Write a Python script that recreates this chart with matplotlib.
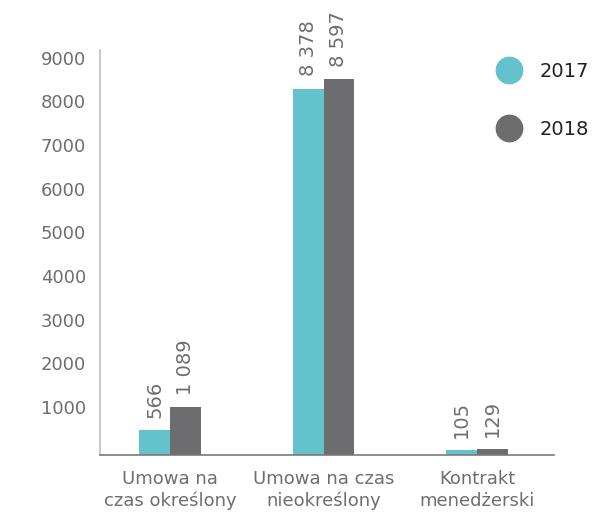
import matplotlib.pyplot as plt
import numpy as np
from matplotlib.lines import Line2D
from matplotlib.transforms import ScaledTranslation

# employment contract types, headcount per year
categories = ["Umowa na\nczas określony", "Umowa na czas\nnieokreślony", "Kontrakt\nmenedżerski"]
years = ["2017", "2018"]
values_2017 = [566, 8378, 105]
values_2018 = [1089, 8597, 129]
yticks = [1000, 2000, 3000, 4000, 5000, 6000, 7000, 8000, 9000]

CYAN = "#63c2cc"
GRAY = "#6d6d6f"
TEXT = "#6e6e6e"

plt.rcParams["font.family"] = ["DejaVu Sans"]

fig = plt.figure(figsize=(5.95, 5.15), dpi=100)
ax = fig.add_axes([0.168, 0.1165, 0.763, 0.7865])

x = np.arange(len(categories))
w = 0.2
ax.bar(x - w / 2, values_2017, w, color=CYAN)
ax.bar(x + w / 2, values_2018, w, color=GRAY)


def fmt(v):
    return f"{v:,}".replace(",", " ")


for xs, vals in [(x - w / 2, values_2017), (x + w / 2, values_2018)]:
    for xi, v in zip(xs, vals):
        ax.annotate(fmt(v), (xi, v), xytext=(0, 9), textcoords="offset points",
                    rotation=90, ha="center", va="bottom", fontsize=14, color=TEXT)

ax.set_xlim(-0.456, 2.5)
ax.set_ylim(0, 9270)
ax.set_yticks(yticks)
ax.set_yticklabels([str(t) for t in yticks])
ax.set_xticks(x)
ax.set_xticklabels(categories, linespacing=1.3)
ax.tick_params(axis="y", length=0, pad=10, labelsize=13, labelcolor=TEXT)
ax.tick_params(axis="x", length=0, pad=10.5, labelsize=13, labelcolor=TEXT)

# nudge y labels up a little
for lbl in ax.get_yticklabels():
    lbl.set_transform(lbl.get_transform() + ScaledTranslation(0, 3 / 72, fig.dpi_scale_trans))

for side in ["top", "right"]:
    ax.spines[side].set_visible(False)
ax.spines["left"].set_color("#bdbdbd")
ax.spines["left"].set_linewidth(1.2)
ax.spines["bottom"].set_color("#7a7a7a")
ax.spines["bottom"].set_linewidth(1.2)

handles = [Line2D([], [], marker="o", linestyle="", markersize=19, color=c)
           for c in (CYAN, GRAY)]
leg = fig.legend(handles, years, loc="upper left", bbox_to_anchor=(0.81, 0.895),
                 frameon=False, fontsize=14, labelspacing=2.0, handletextpad=0.55,
                 borderaxespad=0)
for t in leg.get_texts():
    t.set_color("#222222")

fig.savefig("out.png", dpi=100)
